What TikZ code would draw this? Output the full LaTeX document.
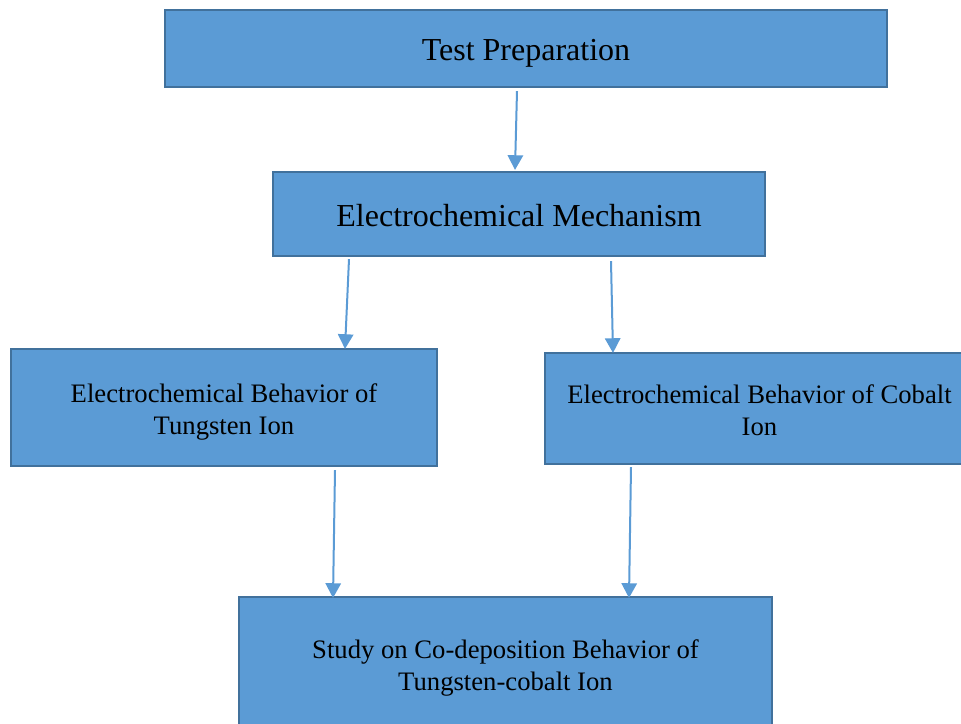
\documentclass[tikz,border=0pt]{standalone}
\usepackage{fontspec}
\setmainfont{Liberation Serif}
\usetikzlibrary{calc,arrows.meta}
\definecolor{boxfill}{HTML}{5B9BD5}
\definecolor{boxline}{HTML}{41719C}
\definecolor{arrowc}{HTML}{5B9BD5}
\tikzset{
  flowbox/.style={draw=boxline, line width=1.6pt, fill=boxfill, inner sep=0pt},
  boxtext/.style={align=center, text=black, inner sep=0pt},
  conn/.style={draw=arrowc, line width=1.5pt, -{Triangle[width=11.5pt,length=11pt]}}
}
\begin{document}
\begin{tikzpicture}[x=0.75pt,y=-0.75pt]
\useasboundingbox (0,0) rectangle (961,724);
\clip (0,0) rectangle (961,724);
\node[flowbox, minimum width=541.5pt, minimum height=57.75pt,
  label={[boxtext, font=\fontsize{24}{28}\selectfont, yshift=-3.75pt]center:Test Preparation}] (tp) at (526,48.5) {};
\node[flowbox, minimum width=369pt, minimum height=63pt,
  label={[boxtext, font=\fontsize{24}{28}\selectfont, yshift=-1.5pt]center:Electrochemical Mechanism}] (em) at (519,214) {};
\node[flowbox, minimum width=319.5pt, minimum height=87.75pt,
  label={[boxtext, font=\fontsize{20}{24}\selectfont, yshift=-3pt]center:{Electrochemical Behavior of\\Tungsten Ion}}] (lt) at (224,407.5) {};
\node[flowbox, minimum width=321.75pt, minimum height=83.25pt,
  label={[boxtext, font=\fontsize{20}{24}\selectfont, yshift=-1.5pt]center:{Electrochemical Behavior of Cobalt\\Ion}}] (rc) at (759.5,408.5) {};
\node[flowbox, minimum width=399.75pt, minimum height=102pt,
  label={[boxtext, font=\fontsize{20}{24}\selectfont, yshift=-2.25pt]center:{Study on Co-deposition Behavior of\\Tungsten-cobalt Ion}}] (bot) at (505.5,665) {};
\draw[conn] ($(tp.south)+(-9,3)$) -- ($(em.north)+(-4,-1)$);
\draw[conn] ($(em.south)+(-170,2)$) -- ($(lt.north)+(121,1)$);
\draw[conn] ($(em.south)+(92,4)$) -- ($(rc.north)+(-146.5,1)$);
\draw[conn] ($(lt.south)+(111,3)$) -- ($(bot.north)+(-172.5,2)$);
\draw[conn] ($(rc.south)+(-128.5,2)$) -- ($(bot.north)+(123.5,2)$);
\end{tikzpicture}
\end{document}
